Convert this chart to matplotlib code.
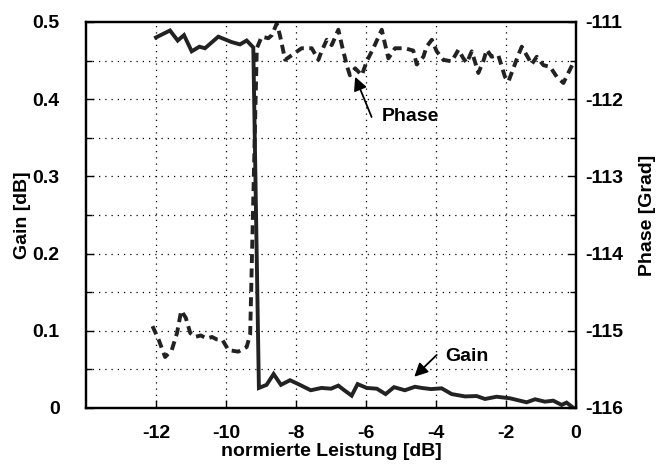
import matplotlib
matplotlib.use("Agg")
import matplotlib.pyplot as plt
from matplotlib.ticker import MultipleLocator

plt.rcParams["font.family"] = ["Liberation Sans", "DejaVu Sans"]
plt.rcParams["font.size"] = 14
plt.rcParams["font.weight"] = "bold"
plt.rcParams["axes.labelweight"] = "bold"
plt.rcParams["axes.unicode_minus"] = False

# Gain [dB] over normalised power
gain_x = [-12.0, -11.6, -11.38, -11.2, -10.98, -10.76, -10.6, -10.22, -9.84, -9.6,
          -9.41, -9.22, -9.06, -8.84, -8.64, -8.43, -8.17, -7.89, -7.58, -7.27,
          -7.0, -6.79, -6.65, -6.41, -6.24, -5.98, -5.69, -5.44, -5.2, -4.89,
          -4.6, -4.41, -4.14, -3.84, -3.55, -3.17, -2.84, -2.6, -2.27, -1.89,
          -1.41, -1.17, -0.89, -0.65, -0.41, -0.27, -0.08]
gain_y = [0.480, 0.489, 0.476, 0.483, 0.462, 0.468, 0.466, 0.481, 0.474, 0.471,
          0.476, 0.467, 0.026, 0.030, 0.044, 0.030, 0.036, 0.030, 0.023, 0.026,
          0.025, 0.029, 0.024, 0.016, 0.031, 0.026, 0.025, 0.018, 0.027, 0.023,
          0.0275, 0.026, 0.0245, 0.0255, 0.018, 0.015, 0.0155, 0.0117, 0.0146, 0.0126,
          0.0074, 0.0113, 0.0082, 0.0095, 0.004, 0.007, 0.0004]

# Phase [Grad] over normalised power
phase_x = [-12.1, -11.92, -11.74, -11.55, -11.4, -11.28, -11.15, -11.02, -10.89, -10.72,
           -10.55, -10.4, -10.27, -10.1, -9.93, -9.65, -9.41, -9.31, -9.12, -8.98,
           -8.79, -8.69, -8.55, -8.46, -8.31, -8.12, -7.84, -7.55, -7.36, -7.27,
           -7.12, -6.98, -6.79, -6.69, -6.55, -6.46, -6.31, -6.12, -5.98, -5.79,
           -5.55, -5.46, -5.36, -5.17, -4.89, -4.65, -4.55, -4.36, -4.27, -4.12,
           -3.98, -3.79, -3.55, -3.36, -3.22, -3.12, -2.98, -2.89, -2.79, -2.65,
           -2.55, -2.41, -2.22, -2.03, -1.93, -1.79, -1.65, -1.55, -1.36, -1.27,
           -1.12, -0.93, -0.74, -0.55, -0.36, -0.22, -0.1]
phase_y = [-114.94, -115.12, -115.34, -115.25, -115.03, -114.74, -114.83, -115.03, -115.08, -115.06,
           -115.10, -115.08, -115.11, -115.12, -115.25, -115.27, -115.21, -115.05, -111.34, -111.19,
           -111.21, -111.17, -111.02, -111.17, -111.49, -111.43, -111.34, -111.34, -111.49, -111.38,
           -111.23, -111.30, -111.10, -111.30, -111.56, -111.69, -111.60, -111.69, -111.51, -111.34,
           -111.10, -111.28, -111.47, -111.34, -111.34, -111.37, -111.55, -111.45, -111.32, -111.23,
           -111.38, -111.49, -111.51, -111.36, -111.47, -111.53, -111.38, -111.51, -111.66, -111.51,
           -111.36, -111.45, -111.43, -111.71, -111.77, -111.60, -111.43, -111.32, -111.47, -111.55,
           -111.45, -111.56, -111.58, -111.71, -111.79, -111.66, -111.55]

x_ticks = [-12, -10, -8, -6, -4, -2, 0]
gain_ticks = [0, 0.1, 0.2, 0.3, 0.4, 0.5]
phase_ticks = [-116, -115, -114, -113, -112, -111]

fig = plt.figure(figsize=(6.63, 4.67), dpi=100)
ax = fig.add_axes([86 / 663, 1 - 408 / 467, 490 / 663, 386 / 467])
ax2 = ax.twinx()

ax.plot(gain_x, gain_y, color="#222222", lw=2.8, solid_joinstyle="miter")
ax2.plot(phase_x, phase_y, color="#222222", lw=2.8, linestyle=(0, (2.3, 1.4)))

ax.set_xlim(-14, 0)
ax.set_ylim(0, 0.5)
ax2.set_ylim(-116, -111)

ax.set_xticks(x_ticks)
ax.set_xticklabels([str(t) for t in x_ticks])
ax.set_yticks(gain_ticks)
ax.set_yticklabels(["0", "0.1", "0.2", "0.3", "0.4", "0.5"])
ax.yaxis.set_minor_locator(MultipleLocator(0.05))
ax2.set_yticks(phase_ticks)
ax2.set_yticklabels([str(t) for t in phase_ticks])
ax2.yaxis.set_minor_locator(MultipleLocator(0.5))

# dotted grid, vertical every 2 dB, horizontal every 0.05 dB
for xv in x_ticks[:-1]:
    ax.axvline(xv, color="black", lw=0.9, linestyle=(0, (1, 4)), zorder=0)
for k in range(1, 10):
    ax.axhline(0.05 * k, color="black", lw=0.9, linestyle=(0, (1, 4)), zorder=0)

ax.tick_params(axis="x", direction="in", length=6, width=1, pad=12, top=False)
ax.tick_params(axis="y", which="major", direction="in", length=6, width=1, pad=19)
ax.tick_params(axis="y", which="minor", direction="in", length=4, width=1)
ax2.tick_params(axis="y", which="major", direction="in", length=6, width=1, pad=7)
ax2.tick_params(axis="y", which="minor", direction="in", length=4, width=1)

for a in (ax, ax2):
    for s in a.spines.values():
        s.set_linewidth(1.6)

ax.set_xlabel("normierte Leistung [dB]")
ax.set_ylabel("Gain [dB]")
ax2.set_ylabel("Phase [Grad]")
ax.xaxis.set_label_coords(0.5, -0.09)
ax.yaxis.set_label_coords(-0.112, 0.5)
ax2.yaxis.set_label_coords(1.128, 0.5)

# annotations: arrows and labels
arrow_kw = dict(arrowstyle="-|>", color="black", lw=1.3,
                mutation_scale=20, shrinkA=0, shrinkB=0)
ax.annotate("", xy=(-6.31, 0.429), xytext=(-5.84, 0.377), arrowprops=arrow_kw)
ax.text(-5.55, 0.377, "Phase", ha="left", va="center", fontsize=14)
ax.annotate("", xy=(-4.62, 0.0405), xytext=(-3.98, 0.0687), arrowprops=arrow_kw)
ax.text(-3.74, 0.0665, "Gain", ha="left", va="center", fontsize=14)

fig.savefig("out.png", dpi=100)
